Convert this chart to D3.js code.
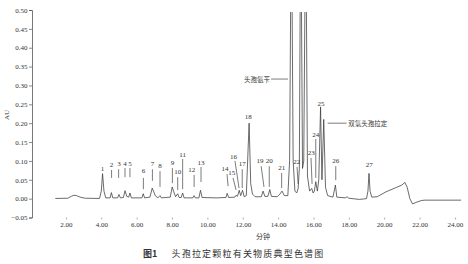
<!DOCTYPE html>
<html><head><meta charset="utf-8">
<script src="https://cdn.jsdelivr.net/npm/d3@7"></script>
<style>
body{margin:0;background:#fff;}
svg{display:block;}
text{font-family:"Liberation Serif","DejaVu Serif",serif;fill:#333;}
.cjk{font-family:"Noto Sans CJK SC",sans-serif;}
</style></head>
<body><svg id="c" width="468" height="264"></svg>
<script>
// ---- data ----
const retentionTime = [1.4,2.1,2.3,2.45,2.6,2.8,3.1,3.9,4.0,4.07,4.15,4.25,4.5,4.57,4.65,4.92,5.0,5.08,5.25,5.34,5.44,5.55,5.62,5.7,6.3,6.37,6.45,6.75,6.88,6.95,7.05,7.2,7.32,7.4,7.9,8.01,8.1,8.2,8.32,8.4,8.52,8.6,8.68,9.18,9.25,9.32,9.52,9.61,9.7,10.5,11.05,11.12,11.2,11.55,11.62,11.7,11.8,11.88,11.99,12.08,12.2,12.36,12.45,12.55,12.7,13.05,13.15,13.25,13.42,13.53,13.62,13.95,14.1,14.22,14.35,14.55,14.65,14.75,14.85,14.95,15.05,15.13,15.2,15.28,15.38,15.45,15.56,15.66,15.78,15.9,15.98,16.05,16.13,16.22,16.3,16.4,16.48,16.58,16.68,16.8,17.1,17.24,17.32,17.8,17.9,18.0,18.6,19.0,19.08,19.14,19.2,19.3,19.6,20.1,20.7,21.0,21.17,21.3,21.45,21.6,21.8,22.1,22.3,24.35];
const absorbance   = [0.0005,0.001,0.006,0.009,0.008,0.004,0.001,0.0005,0.02,0.066,0.02,0.002,0.002,0.016,0.002,0.002,0.011,0.002,0.003,0.021,0.006,0.004,0.015,0.002,0.002,0.013,0.002,0.004,0.028,0.02,0.008,0.002,0.008,0.002,0.004,0.031,0.018,0.005,0.013,0.003,0.003,0.015,0.002,0.002,0.008,0.002,0.002,0.022,0.003,0.002,0.003,0.014,0.003,0.004,0.009,0.006,0.022,0.008,0.022,0.005,0.008,0.20,0.04,0.012,0.005,0.005,0.02,0.006,0.006,0.024,0.006,0.005,0.012,0.02,0.008,0.008,0.1,0.8,0.1,0.02,0.015,0.026,0.08,0.8,0.08,0.1,0.8,0.06,0.02,0.027,0.015,0.02,0.045,0.02,0.05,0.243,0.05,0.21,0.03,0.008,0.004,0.036,0.004,0.002,0.005,0.001,-0.002,0.0,0.02,0.067,0.02,0.004,0.005,0.018,0.03,0.036,0.043,0.03,0.0,-0.014,-0.01,-0.005,-0.004,-0.004];

const yTicks = [-0.05,0,0.05,0.10,0.15,0.20,0.25,0.30,0.35,0.40,0.45,0.50];
const xTicks = [2,4,6,8,10,12,14,16,18,20,22,24];

// peak number labels: text anchor (time, AU) and optional leader line (t1,v1)->(t2,v2)
const peakNames  = ["1","2","3","4","5","6","7","8","9","10","11","12","13","14","15","16","17","18","19","20","21","22","23","24","25","26","27"];
const peakLabelT = [4.07,4.58,5.0,5.34,5.62,6.38,6.89,7.32,8.02,8.32,8.6,9.11,9.64,11.0,11.38,11.47,11.97,12.31,12.98,13.5,14.2,15.05,15.87,16.13,16.43,17.26,19.16];
const peakLabelV = [0.078,0.089,0.092,0.093,0.092,0.073,0.092,0.086,0.094,0.071,0.116,0.076,0.095,0.078,0.067,0.111,0.091,0.217,0.1,0.1,0.08,0.096,0.12,0.17,0.251,0.1,0.089];
const leaderT1   = [null,4.58,4.98,5.34,5.62,6.38,6.89,7.32,8.02,8.32,8.6,9.25,9.64,11.11,11.45,11.56,11.97,null,13.04,13.5,14.2,15.07,15.86,16.13,null,17.26,null];
const leaderT2   = [null,4.58,4.98,5.34,5.62,6.38,6.89,7.32,8.02,8.32,8.6,9.25,9.64,11.17,11.62,11.79,11.97,null,13.2,13.5,14.2,15.13,15.92,16.13,null,17.26,null];
const leaderV1   = [null,0.076,0.078,0.081,0.081,0.055,0.078,0.073,0.081,0.057,0.105,0.063,0.084,0.065,0.055,0.1,0.078,null,0.086,0.086,0.068,0.084,0.108,0.158,null,0.086,null];
const leaderV2   = [null,0.055,0.055,0.057,0.057,0.025,0.047,0.031,0.041,0.023,0.025,0.031,0.044,0.033,0.023,0.028,0.028,null,0.031,0.031,0.028,0.039,0.039,0.055,null,0.049,null];

// named compound labels
const compoundNames = ["头孢氨苄","双氢头孢拉定"];
const compoundTextT = [13.54,17.97];
const compoundV     = [0.317,0.2];
const compoundLineT1= [13.6,16.8];
const compoundLineT2= [14.56,17.87];

const yLabel = "AU", xLabel = "分钟";
const captionNum = "图1", captionText = "头孢拉定颗粒有关物质典型色谱图";

// ---- drawing ----
const svg = d3.select("#c");
const x = d3.scaleLinear().domain([0.08,24.4]).range([32,462]);
const y = d3.scaleLinear().domain([-0.05,0.50]).range([217.5,10]);

svg.append("defs").append("clipPath").attr("id","clip")
  .append("rect").attr("x",32).attr("y",12).attr("width",440).attr("height",220);

// y axis
const ya = svg.append("g").attr("transform","translate(32,0)")
  .call(d3.axisLeft(y).tickValues(yTicks).tickFormat(d3.format(".2f")).tickSize(3).tickPadding(1.5));
ya.select(".domain").attr("stroke","#555").attr("stroke-width",0.8);
ya.selectAll(".tick line").attr("stroke","#555").attr("stroke-width",0.7);
ya.selectAll(".tick text").style("font-family","Liberation Serif").style("font-size","7px").attr("fill","#333");

// x axis (ticks only)
const xa = svg.append("g").attr("transform","translate(0,217.5)")
  .call(d3.axisBottom(x).tickValues(xTicks).tickFormat(d3.format(".2f")).tickSize(2).tickPadding(2.5));
xa.select(".domain").remove();
xa.selectAll(".tick line").attr("stroke","#777").attr("stroke-width",0.6);
xa.selectAll(".tick text").style("font-family","Liberation Serif").style("font-size","7px").attr("fill","#333");

// trace
const pts = retentionTime.map((t,i)=>[t,absorbance[i]]);
svg.append("path").attr("clip-path","url(#clip)")
  .datum(pts)
  .attr("fill","none").attr("stroke","#3a3a3a").attr("stroke-width",0.75).attr("stroke-linejoin","round")
  .attr("d", d3.line().x(d=>x(d[0])).y(d=>y(d[1])));

// peak labels
const g = svg.append("g");
peakNames.forEach((n,i)=>{
  g.append("text").attr("x",x(peakLabelT[i])).attr("y",y(peakLabelV[i]))
    .attr("text-anchor","middle").attr("dominant-baseline","central")
    .style("font-size","7px").text(n);
  if(leaderT1[i]!==null){
    g.append("line").attr("x1",x(leaderT1[i])).attr("y1",y(leaderV1[i]))
      .attr("x2",x(leaderT2[i])).attr("y2",y(leaderV2[i]))
      .attr("stroke","#444").attr("stroke-width",0.7);
  }
});

// compound labels
compoundNames.forEach((n,i)=>{
  const left = i===0;
  g.append("text").attr("class","cjk")
    .attr("x",x(compoundTextT[i])).attr("y",y(compoundV[i]))
    .attr("text-anchor", left ? "end" : "start").attr("dominant-baseline","central")
    .style("font-size","6.5px").text(n);
  g.append("line").attr("x1",x(compoundLineT1[i])).attr("x2",x(compoundLineT2[i]))
    .attr("y1",y(compoundV[i])).attr("y2",y(compoundV[i]))
    .attr("stroke","#444").attr("stroke-width",0.7);
});

// axis titles
svg.append("text").attr("transform","translate(7,115) rotate(-90)")
  .attr("text-anchor","middle").attr("dominant-baseline","central")
  .style("font-size","7px").text(yLabel);
svg.append("text").attr("class","cjk").attr("x",263).attr("y",236)
  .attr("text-anchor","middle").attr("dominant-baseline","central")
  .style("font-size","7px").text(xLabel);

// caption
svg.append("text").attr("class","cjk").attr("x",143).attr("y",253.5)
  .attr("dominant-baseline","central").style("font-size","9px").style("font-weight","bold")
  .attr("fill","#111").text(captionNum);
svg.append("text").attr("class","cjk").attr("x",171.5).attr("y",253.5)
  .attr("dominant-baseline","central").style("font-size","9px").style("letter-spacing","1.2px")
  .attr("fill","#222").text(captionText);
</script></body></html>
